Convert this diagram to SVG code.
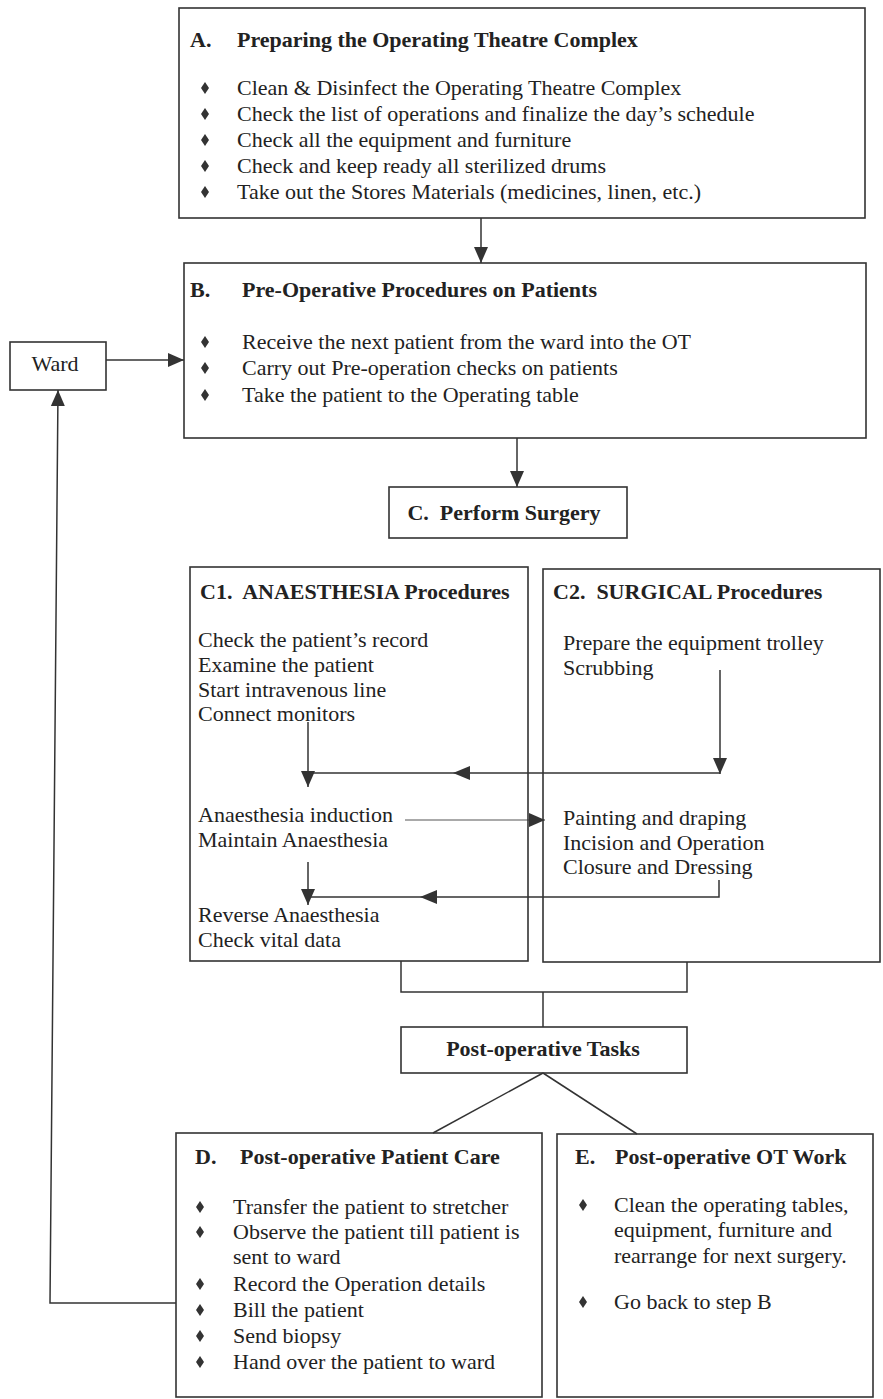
<svg xmlns="http://www.w3.org/2000/svg" width="883" height="1399" viewBox="0 0 883 1399">
<style>
.bg{fill:#fff}
.box{fill:none;stroke:#333;stroke-width:1.6}
.ln{fill:none;stroke:#333;stroke-width:1.5}
.thin{fill:none;stroke:#555;stroke-width:1}
.t{font-family:"Liberation Serif","Times New Roman",serif;font-size:22px;fill:#222}
.b{font-weight:bold}
.dia{fill:#333}
.ah{fill:#333}
</style>
<defs>
<marker id="arr" markerUnits="userSpaceOnUse" markerWidth="17" markerHeight="16" refX="16" refY="8" orient="auto">
<path d="M0,1 L16,8 L0,15 Z" fill="#333"/>
</marker>
<path id="dm" class="dia" d="M0,-6 L4,0 L0,6 L-4,0 Z"/>
</defs>
<rect class="bg" x="0" y="0" width="883" height="1399"/>

<g id="connectors">
<line class="ln" x1="481" y1="218" x2="481" y2="263" marker-end="url(#arr)"/>
<line class="ln" x1="106" y1="360" x2="184" y2="360" marker-end="url(#arr)"/>
<line class="ln" x1="517" y1="438" x2="517" y2="487" marker-end="url(#arr)"/>
<polyline class="ln" points="176,1303 50,1303 58,390" marker-end="url(#arr)"/>
<line class="ln" x1="308" y1="722" x2="308" y2="787" marker-end="url(#arr)"/>
<line class="ln" x1="720" y1="670" x2="720" y2="774" marker-end="url(#arr)"/>
<line class="ln" x1="720" y1="773" x2="308" y2="773"/>
<polygon class="ah" points="453,773 470,766 470,780"/>
<line class="thin" x1="405" y1="820" x2="545" y2="820" marker-end="url(#arr)"/>
<polyline class="ln" points="719,880 719,897 308,897"/>
<polygon class="ah" points="420,897 437,890 437,904"/>
<line class="ln" x1="308" y1="862" x2="308" y2="905" marker-end="url(#arr)"/>
<polyline class="ln" points="401,961 401,992 687,992 687,962"/>
<line class="ln" x1="543" y1="992" x2="543" y2="1027"/>
<line class="ln" x1="543" y1="1073" x2="433" y2="1133"/>
<line class="ln" x1="543" y1="1073" x2="637" y2="1134"/>
</g>

<g id="nodeA">
<rect class="box" x="179" y="8" width="686" height="210"/>
<text class="t b" x="190" y="47">A.</text>
<text class="t b" x="237" y="47">Preparing the Operating Theatre Complex</text>
<use href="#dm" x="205" y="88"/><text class="t" x="237" y="95">Clean &amp; Disinfect the Operating Theatre Complex</text>
<use href="#dm" x="205" y="114"/><text class="t" x="237" y="121">Check the list of operations and finalize the day’s schedule</text>
<use href="#dm" x="205" y="140"/><text class="t" x="237" y="147">Check all the equipment and furniture</text>
<use href="#dm" x="205" y="166"/><text class="t" x="237" y="173">Check and keep ready all sterilized drums</text>
<use href="#dm" x="205" y="192"/><text class="t" x="237" y="199">Take out the Stores Materials (medicines, linen, etc.)</text>
</g>

<g id="nodeB">
<rect class="box" x="184" y="263" width="682" height="175"/>
<text class="t b" x="190" y="297">B.</text>
<text class="t b" x="242" y="297">Pre-Operative Procedures on Patients</text>
<use href="#dm" x="205" y="342"/><text class="t" x="242" y="349">Receive the next patient from the ward into the OT</text>
<use href="#dm" x="205" y="368"/><text class="t" x="242" y="375">Carry out Pre-operation checks on patients</text>
<use href="#dm" x="205" y="395"/><text class="t" x="242" y="402">Take the patient to the Operating table</text>
</g>

<g id="ward">
<rect class="box" x="10" y="342" width="96" height="48"/>
<text class="t" x="55" y="371" text-anchor="middle" font-size="21">Ward</text>
</g>

<g id="nodeC">
<rect class="box" x="389" y="487" width="238" height="51"/>
<text class="t b" x="504" y="520" text-anchor="middle" xml:space="preserve">C.  Perform Surgery</text>
</g>

<g id="nodeC1">
<rect class="box" x="190" y="567" width="338" height="394"/>
<text class="t b" x="200" y="599" xml:space="preserve">C1.  ANAESTHESIA Procedures</text>
<text class="t" x="198" y="647">Check the patient’s record</text>
<text class="t" x="198" y="672">Examine the patient</text>
<text class="t" x="198" y="697">Start intravenous line</text>
<text class="t" x="198" y="721">Connect monitors</text>
<text class="t" x="198" y="822">Anaesthesia induction</text>
<text class="t" x="198" y="847">Maintain Anaesthesia</text>
<text class="t" x="198" y="922">Reverse Anaesthesia</text>
<text class="t" x="198" y="947">Check vital data</text>
</g>

<g id="nodeC2">
<rect class="box" x="543" y="569" width="337" height="393"/>
<text class="t b" x="553" y="599" xml:space="preserve">C2.  SURGICAL Procedures</text>
<text class="t" x="563" y="650">Prepare the equipment trolley</text>
<text class="t" x="563" y="675">Scrubbing</text>
<text class="t" x="563" y="825">Painting and draping</text>
<text class="t" x="563" y="850">Incision and Operation</text>
<text class="t" x="563" y="874">Closure and Dressing</text>
</g>

<g id="postop">
<rect class="box" x="401" y="1027" width="286" height="46"/>
<text class="t b" x="543" y="1056" text-anchor="middle" font-size="21.5">Post-operative Tasks</text>
</g>

<g id="nodeD">
<rect class="box" x="176" y="1133" width="366" height="264"/>
<text class="t b" x="195" y="1164">D.</text>
<text class="t b" x="240" y="1164">Post-operative Patient Care</text>
<use href="#dm" x="200" y="1207"/><text class="t" x="233" y="1214">Transfer the patient to stretcher</text>
<use href="#dm" x="200" y="1232"/><text class="t" x="233" y="1239">Observe the patient till patient is</text>
<text class="t" x="233" y="1264">sent to ward</text>
<use href="#dm" x="200" y="1284"/><text class="t" x="233" y="1291">Record the Operation details</text>
<use href="#dm" x="200" y="1310"/><text class="t" x="233" y="1317">Bill the patient</text>
<use href="#dm" x="200" y="1336"/><text class="t" x="233" y="1343">Send biopsy</text>
<use href="#dm" x="200" y="1362"/><text class="t" x="233" y="1369">Hand over the patient to ward</text>
</g>

<g id="nodeE">
<rect class="box" x="557" y="1134" width="316" height="263"/>
<text class="t b" x="575" y="1164">E.</text>
<text class="t b" x="615" y="1164">Post-operative OT Work</text>
<use href="#dm" x="583" y="1205"/><text class="t" x="614" y="1212">Clean the operating tables,</text>
<text class="t" x="614" y="1237">equipment, furniture and</text>
<text class="t" x="614" y="1263">rearrange for next surgery.</text>
<use href="#dm" x="583" y="1302"/><text class="t" x="614" y="1309">Go back to step B</text>
</g>
</svg>
